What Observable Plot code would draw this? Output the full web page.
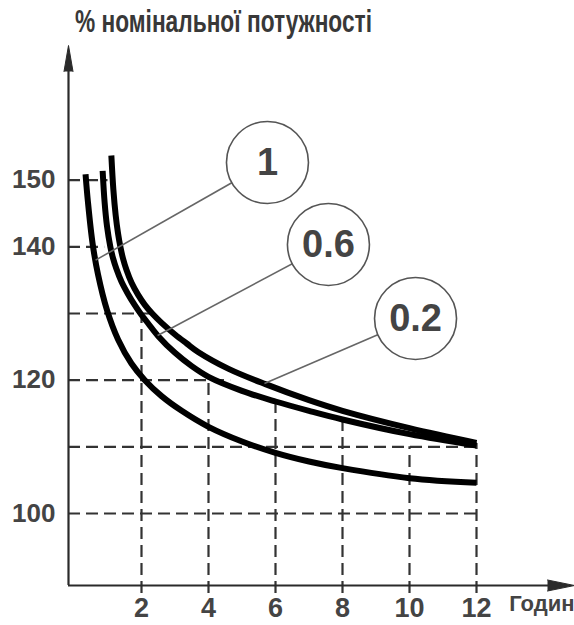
<!DOCTYPE html>
<html>
<head>
<meta charset="utf-8">
<script src="https://cdn.jsdelivr.net/npm/d3@7"></script>
<script src="https://cdn.jsdelivr.net/npm/@observablehq/plot@0.6"></script>
<style>
  body { margin: 0; background: #fff; width: 574px; height: 625px; overflow: hidden; }
  #title { position: relative; height: 45px; width: 574px; }
  #title span { position: absolute; left: 75px; top: 3px; line-height: 45px; white-space: nowrap;
    font: bold 32px "Liberation Sans", Arial, sans-serif; color: #383838; transform-origin: 0 50%; }
  #chart svg { display: block; }
</style>
</head>
<body>
<div id="title"><span id="tt">% номінальної потужності</span></div>
<div id="chart"></div>
<script>
// ---- data ----
const yTicks = [100, 120, 140, 150];
const xTicks = [2, 4, 6, 8, 10, 12];
const xAxisLabel = "Годин";

// curve K = 1 (lowest)
const k1X = [0.33, 0.4, 0.54, 0.7, 0.97, 1.3, 1.7, 2.1, 2.6, 3.2, 4, 5, 6, 7, 8, 10, 12];
const k1Y = [150.9, 146.8, 140.5, 135.9, 130.5, 126.1, 122.5, 120, 117.6, 115.4, 113, 110.8, 109.1, 107.8, 106.8, 105.3, 104.6];
// curve K = 0.6 (middle)
const k06X = [0.84, 0.90, 0.97, 1.07, 1.15, 1.25, 1.4, 1.6, 1.8, 1.97, 2.2, 2.5, 3, 3.5, 4, 5, 6, 7, 8, 10, 12];
const k06Y = [151.4, 146.6, 143.1, 140, 138.3, 136.7, 134.8, 132.9, 131.25, 130, 128.5, 126.6, 124.1, 122.1, 120.5, 118.4, 116.8, 115.4, 114.1, 111.9, 110.2];
// curve K = 0.2 (upper)
const k02X = [1.1, 1.16, 1.23, 1.3, 1.37, 1.45, 1.55, 1.7, 1.9, 2.1, 2.32, 2.6, 3.0, 3.35, 3.7, 4.6, 5.7, 7, 8, 10, 12];
const k02Y = [153.7, 148.6, 144.7, 142.0, 140, 138.2, 136.55, 134.65, 132.8, 131.3, 130, 128.6, 126.85, 125.5, 124.2, 121.7, 119.4, 117.0, 115.4, 112.8, 110.6];

// callout labels
const labelText = ["1", "0.6", "0.2"];
const labelX = [5.76, 7.58, 10.18];
const labelY = [152.65, 140.35, 129.25];
const pointX = [0.63, 2.48, 5.67];
const pointY = [138.0, 126.7, 119.5];

// dashed reference lines
const hGridY = [150, 140, 130, 120, 110, 100];
const hGridEnd = [1.0, 0.9, 2.3, 4.66, 12, 12];
const vGridX = [2, 4, 6, 8, 10, 12];
const vGridTop = [130, 120, 117.6, 114, 110, 110.5];

// ---- build ----
const xDom = [-0.179, 14.925];
const yDom = [89.2, 170.2];

const curves = [];
[[k1X, k1Y, "1"], [k06X, k06Y, "0.6"], [k02X, k02Y, "0.2"]].forEach(([xs, ys, k]) =>
  xs.forEach((x, i) => curves.push({k, x, y: ys[i]})));
const labels = labelText.map((t, i) => ({t, lx: labelX[i], ly: labelY[i], px: pointX[i], py: pointY[i]}));
const hGrid = hGridY.map((y, i) => ({y, x2: hGridEnd[i]}));
const vGrid = vGridX.map((x, i) => ({x, y2: vGridTop[i]}));

const dash = {stroke: "#333", strokeWidth: 2.2, strokeDasharray: "12,6"};
const axisCol = "#2a2a2a";
const font = "Liberation Sans, Arial, sans-serif";

const plot = Plot.plot({
  width: 574,
  height: 580,
  marginLeft: 68,
  marginRight: 0,
  marginTop: 0,
  marginBottom: 40,
  style: {background: "#fff", color: "#444", overflow: "visible"},
  x: {domain: xDom, axis: null},
  y: {domain: yDom, axis: null},
  marks: [
    Plot.ruleY(hGrid, {y: "y", x1: xDom[0], x2: "x2", ...dash}),
    Plot.ruleX(vGrid, {x: "x", y1: 88, y2: "y2", ...dash}),
    Plot.ruleX([xDom[0]], {y1: yDom[0], y2: yDom[1] - 2, stroke: axisCol, strokeWidth: 2.2}),
    Plot.ruleY([yDom[0]], {x1: xDom[0], x2: xDom[1] - 0.5, stroke: axisCol, strokeWidth: 2.2}),
    Plot.vector([{x: xDom[0], y: yDom[1]}], {x: "x", y: "y", length: 26, r: 4.5, rotate: 0, shape: "spike", anchor: "end", fill: axisCol, stroke: axisCol, strokeWidth: 1}),
    Plot.vector([{x: xDom[1], y: yDom[0]}], {x: "x", y: "y", length: 27, r: 5.5, rotate: 90, shape: "spike", anchor: "end", fill: axisCol, stroke: axisCol, strokeWidth: 1}),
    Plot.axisY(yTicks, {tickSize: 0, tickPadding: 13, fontSize: 26, fontWeight: "bold", fill: "#444", fontFamily: font}),
    Plot.axisX(xTicks, {tickSize: 0, tickPadding: 12, fontSize: 27, fontWeight: "bold", fill: "#444", fontFamily: font}),
    Plot.text([xAxisLabel], {frameAnchor: "bottom-right", text: d => d, dy: 25, fontSize: 22, fontWeight: "bold", fill: "#444", textAnchor: "end", fontFamily: font}),
    Plot.line(curves, {x: "x", y: "y", z: "k", curve: "catmull-rom", stroke: "#000", strokeWidth: 6, strokeLinecap: "butt"}),
    Plot.link(labels, {x1: "px", y1: "py", x2: "lx", y2: "ly", stroke: "#666", strokeWidth: 1.6}),
    Plot.dot(labels, {x: "lx", y: "ly", r: 41, fill: "#fff", stroke: "#555", strokeWidth: 1.6}),
    Plot.text(labels, {x: "lx", y: "ly", text: "t", fontSize: 38, fontWeight: "bold", fill: "#444", fontFamily: font})
  ]
});
document.getElementById("chart").appendChild(plot);

// fit title width to the reference
const tt = document.getElementById("tt");
const w = tt.getBoundingClientRect().width;
tt.style.transform = `scaleX(${297 / w})`;
</script>
</body>
</html>
